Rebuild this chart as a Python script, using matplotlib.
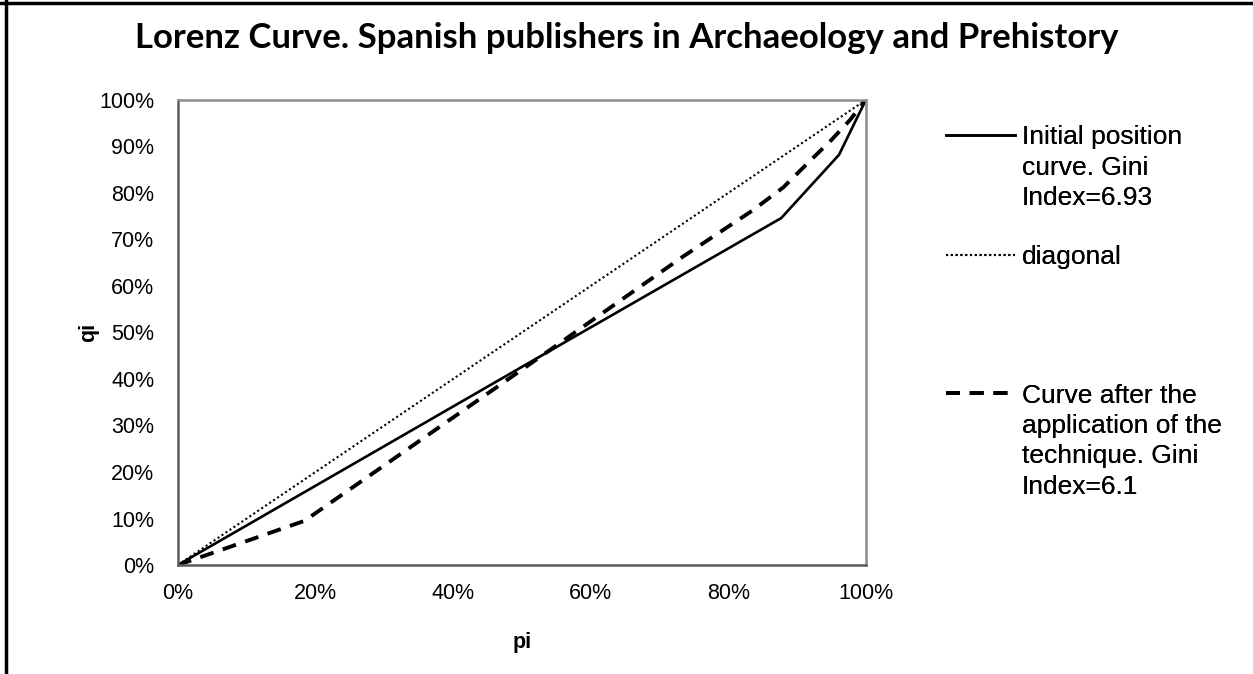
import numpy as np
import matplotlib
matplotlib.use("Agg")
import matplotlib.pyplot as plt
from matplotlib.lines import Line2D
from matplotlib.ticker import PercentFormatter

plt.rcParams["font.family"] = ["Liberation Sans", "DejaVu Sans"]

# cumulative share of publishers (pi) vs cumulative share of output (qi), in %
pi_initial = [0, 50, 87.7, 96.1, 100]
qi_initial = [0, 42.6, 74.6, 88.2, 100]

pi_after = [0, 18.4, 50, 73.4, 83.5, 88, 92.3, 95.0, 97.7, 100]
qi_after = [0, 9.5, 42.0, 66.3, 76.2, 81.2, 87.5, 91.4, 95.7, 100]

diag = [0, 100]

label_initial = "Initial position\ncurve. Gini\nIndex=6.93"
label_diag = "diagonal"
label_after = "Curve after the\napplication of the\ntechnique. Gini\nIndex=6.1"
title = "Lorenz Curve. Spanish publishers in Archaeology and Prehistory"

solid_style = dict(color="black", lw=1.9)
dot_style = dict(color="black", lw=1.5, linestyle=(0, (1, 1.3)))
dash_style = dict(color="black", lw=2.8, linestyle=(0, (3.6, 2.5)))

fig = plt.figure(figsize=(12.53, 6.74), dpi=100)
ax = fig.add_axes([0.142, 0.1617, 0.549, 0.690])

ax.plot(pi_initial, qi_initial, solid_joinstyle="miter", **solid_style)
ax.plot(diag, diag, **dot_style)
ax.plot(pi_after, qi_after, **dash_style)

ax.set_xlim(0, 100)
ax.set_ylim(0, 100)
ax.set_xticks(np.arange(0, 101, 20))
ax.set_yticks(np.arange(0, 101, 10))
ax.xaxis.set_major_formatter(PercentFormatter(decimals=0))
ax.yaxis.set_major_formatter(PercentFormatter(decimals=0))
ax.tick_params(axis="both", length=0, labelsize=15.5)
ax.tick_params(axis="y", pad=17)
ax.tick_params(axis="x", pad=13)
for s in ["top", "right"]:
    ax.spines[s].set_color("#8c8c8c")
    ax.spines[s].set_linewidth(1.8)
for s in ["left", "bottom"]:
    ax.spines[s].set_color("#5a5a5a")
    ax.spines[s].set_linewidth(1.8)

ax.set_xlabel("pi", fontsize=15.5, fontweight="bold", labelpad=20)
ax.set_ylabel("qi", fontsize=15.5, fontweight="bold", labelpad=0)

fig.text(0.5, 1 - 38 / 674, title, ha="center", va="center", fontsize=25,
         fontweight="bold", family=["Lato", "DejaVu Sans"])

# legend entries, one per block so the spacing follows the reference
entries = [
    (Line2D([], [], **solid_style), label_initial, 0.814),
    (Line2D([], [], **dot_style), label_diag, 0.636),
    (Line2D([], [], **dash_style), label_after, 0.431),
]
for h, lab, yy in entries:
    leg = fig.legend([h], [lab], loc="upper left", bbox_to_anchor=(0.755, yy),
                     frameon=False, fontsize=19, handlelength=2.6,
                     handletextpad=0.27, borderpad=0, borderaxespad=0)
    for t in leg.get_texts():
        t.set_linespacing(1.34)
    # put the handle next to the first text line, as in the reference
    for col in leg._legend_handle_box.get_children():
        for row in col.get_children():
            row.align = "top"
    fig.add_artist(leg)

# outer frame lines (top and left only)
fig.add_artist(Line2D([0, 1], [0.996, 0.996], color="black", lw=2.5,
                      transform=fig.transFigure))
fig.add_artist(Line2D([0.0045, 0.0045], [0, 1], color="black", lw=2.5,
                      transform=fig.transFigure))

fig.savefig("out.png", dpi=100)
